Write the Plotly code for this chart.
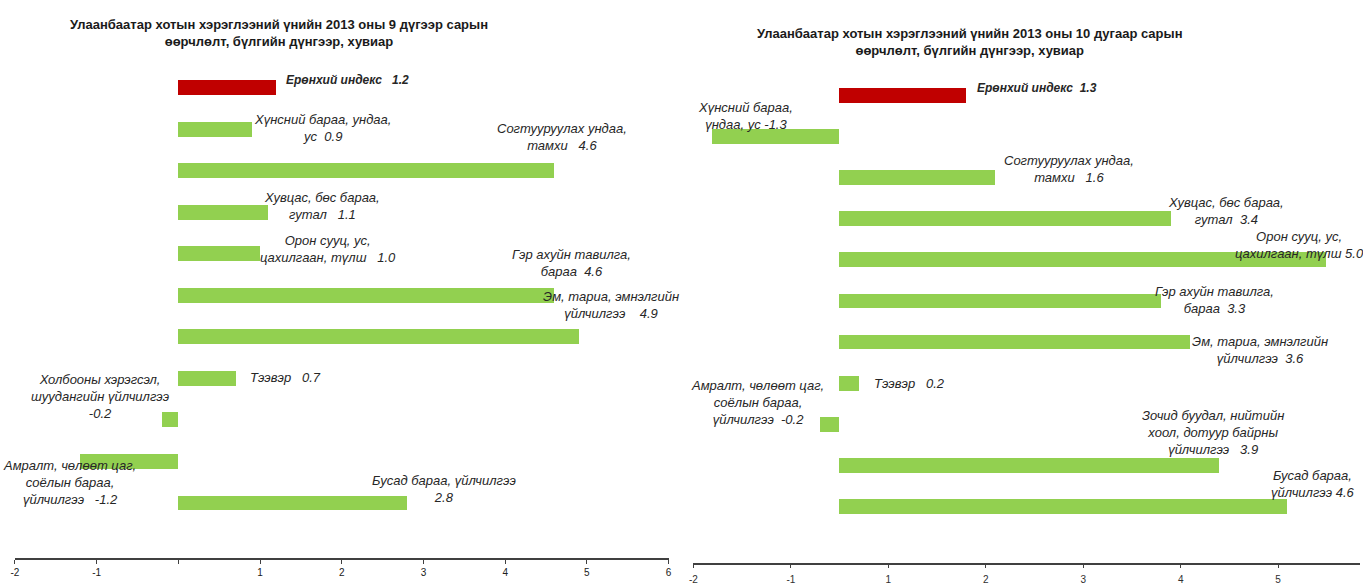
import plotly.graph_objects as go

# --- data: September 2013 (left) ---
sep_categories = ["Ерөнхий индекс", "Хүнсний бараа, ундаа, ус", "Согтууруулах ундаа, тамхи",
                  "Хувцас, бөс бараа, гутал", "Орон сууц, ус, цахилгаан, түлш", "Гэр ахуйн тавилга, бараа",
                  "Эм, тариа, эмнэлгийн үйлчилгээ", "Тээвэр", "Холбооны хэрэгсэл, шуудангийн үйлчилгээ",
                  "Амралт, чөлөөт цаг, соёлын бараа, үйлчилгээ", "Бусад бараа, үйлчилгээ"]
sep_values = [1.2, 0.9, 4.6, 1.1, 1.0, 4.6, 4.9, 0.7, -0.2, -1.2, 2.8]
sep_label_fmt = ["Ерөнхий индекс   {v}", "Хүнсний бараа, ундаа,<br>ус  {v}", "Согтууруулах ундаа,<br>тамхи   {v}",
                 "Хувцас, бөс бараа,<br>гутал   {v}", "Орон сууц, ус,<br>цахилгаан, түлш   {v}",
                 "Гэр ахуйн тавилга,<br>бараа  {v}", "Эм, тариа, эмнэлгийн<br>үйлчилгээ    {v}", "Тээвэр   {v}",
                 "Холбооны хэрэгсэл,<br>шуудангийн үйлчилгээ<br>{v}",
                 "Амралт, чөлөөт цаг,<br>соёлын бараа,<br>үйлчилгээ   {v}", "Бусад бараа, үйлчилгээ<br>{v}"]

# --- data: October 2013 (right) ---
oct_categories = ["Ерөнхий индекс", "Хүнсний бараа, ундаа, ус", "Согтууруулах ундаа, тамхи",
                  "Хувцас, бөс бараа, гутал", "Орон сууц, ус, цахилгаан, түлш", "Гэр ахуйн тавилга, бараа",
                  "Эм, тариа, эмнэлгийн үйлчилгээ", "Тээвэр", "Амралт, чөлөөт цаг, соёлын бараа, үйлчилгээ",
                  "Зочид буудал, нийтийн хоол, дотуур байрны үйлчилгээ", "Бусад бараа, үйлчилгээ"]
oct_values = [1.3, -1.3, 1.6, 3.4, 5.0, 3.3, 3.6, 0.2, -0.2, 3.9, 4.6]
oct_label_fmt = ["Ерөнхий индекс  {v}", "Хүнсний бараа,<br>үндаа, ус {v}", "Согтууруулах ундаа,<br>тамхи   {v}",
                 "Хувцас, бөс бараа,<br>гутал  {v}", "Орон сууц, ус,<br>цахилгаан, түлш {v}",
                 "Гэр ахуйн тавилга,<br>бараа  {v}", "Эм, тариа, эмнэлгийн<br>үйлчилгээ  {v}", "Тээвэр   {v}",
                 "Амралт, чөлөөт цаг,<br>соёлын бараа,<br>үйлчилгээ  {v}",
                 "Зочид буудал, нийтийн<br>хоол, дотуур байрны<br>үйлчилгээ   {v}", "Бусад бараа,<br>үйлчилгээ {v}"]

sep_title = "Улаанбаатар хотын хэрэглээний үнийн 2013 оны 9 дүгээр сарын<br>өөрчлөлт, бүлгийн дүнгээр, хувиар"
oct_title = "Улаанбаатар хотын хэрэглээний үнийн 2013 оны 10 дугаар сарын<br>өөрчлөлт, бүлгийн дүнгээр, хувиар"

sep_ticks = [-2, -1, 0, 1, 2, 3, 4, 5, 6]
sep_ticktext = ["-2", "-1", "", "1", "2", "3", "4", "5", "6"]
oct_ticks = [-1.5, -0.5, 0.5, 1.5, 2.5, 3.5, 4.5]
oct_ticktext = ["-2", "-1", "1", "2", "3", "4", "5"]

# label anchor positions in pixels (x, y, anchor)
sep_label_pos = [(281, 80, "left"), (320, 129, "center"), (561, 138, "center"), (320, 207, "center"),
                 (326, 250, "center"), (570, 265, "center"), (610, 307, "center"), (245, 380, "left"),
                 (96, 399, "center"), (66, 485, "center"), (442, 492, "center")]
oct_label_pos = [(976, 89, "left"), (745, 117, "center"), (1071, 170, "center"), (1228, 212, "center"),
                 (1302, 246, "center"), (1217, 302, "center"), (1262, 352, "center"), (872, 386, "left"),
                 (757, 405, "center"), (1215, 435, "center"), (1316, 487, "center")]

W, H = 1363, 585
K = 1.022  # small vertical stretch, the captured page comes out slightly squashed
RED = "#C00000"
GREEN = "#92D050"
FONT = "Liberation Sans Narrow, Arial Narrow, Liberation Sans, Arial, sans-serif"
TEXT_COL = "#262626"


def px(x):
    return x / W


def py(y):
    return 1 - (y * K) / H


def nbsp(s):
    return s.replace("  ", "\u00a0\u00a0")


def band_range(first_center, step, top, bottom):
    # category axis range so that bar 0 sits at first_center px, bars step px apart
    first_center, step = first_center * K, step * K
    r_top = -(first_center - top) / step
    return [r_top + (bottom - top) / step, r_top]


fig = go.Figure()

for i, (cats, vals, xa, ya) in enumerate([(sep_categories, sep_values, "x", "y"),
                                           (oct_categories, oct_values, "x2", "y2")]):
    colors = [RED] + [GREEN] * (len(vals) - 1)
    fig.add_trace(go.Bar(
        x=vals, y=cats, orientation="h", xaxis=xa, yaxis=ya,
        marker=dict(color=colors, line=dict(width=0)),
        width=0.36, showlegend=False, hoverinfo="x+y",
    ))

annotations = []
for fmts, vals, positions in [(sep_label_fmt, sep_values, sep_label_pos),
                              (oct_label_fmt, oct_values, oct_label_pos)]:
    for j, (fmt, v, (x, y, anc)) in enumerate(zip(fmts, vals, positions)):
        txt = nbsp(fmt.format(v=f"{v:.1f}"))
        size = 13
        if j == 0:
            txt = "<b>" + txt + "</b>"
            size = 12
        annotations.append(dict(
            text="<i>" + txt + "</i>", x=px(x), y=py(y), xref="paper", yref="paper",
            xanchor=anc, yanchor="middle", align="center", showarrow=False,
            font=dict(family=FONT, size=size, color=TEXT_COL),
        ))

annotations.append(dict(text="<b>" + sep_title + "</b>", x=px(276), y=py(33), xref="paper", yref="paper",
                        xanchor="center", yanchor="middle", showarrow=False, align="center",
                        font=dict(family=FONT, size=13, color="#1a1a1a")))
annotations.append(dict(text="<b>" + oct_title + "</b>", x=px(971), y=py(42), xref="paper", yref="paper",
                        xanchor="center", yanchor="middle", showarrow=False, align="center",
                        font=dict(family=FONT, size=13, color="#1a1a1a")))

axis_common = dict(showgrid=False, zeroline=False, showline=True, linecolor="#404040", linewidth=1.5,
                   ticks="outside", tickcolor="#404040", tickwidth=1, fixedrange=True)

left_top, left_bottom = 55, 574
right_top, right_bottom = 55, 579

fig.update_layout(
    width=W, height=H,
    margin=dict(l=0, r=0, t=0, b=0),
    paper_bgcolor="white", plot_bgcolor="white",
    bargap=0,
    xaxis=dict(domain=[px(11), px(668)], range=[-2, 6], anchor="y", ticklen=4,
               tickvals=sep_ticks, ticktext=sep_ticktext,
               tickfont=dict(family=FONT, size=10, color="#202020"), **axis_common),
    yaxis=dict(domain=[1 - left_bottom / H, 1 - left_top / H],
               range=band_range(88.5, 41.8, left_top, left_bottom), visible=False,
               categoryorder="array", categoryarray=sep_categories, anchor="x"),
    xaxis2=dict(domain=[px(693), 1.0], range=[-1.5, 5.34], anchor="y2", ticklen=3,
                tickvals=oct_ticks, ticktext=oct_ticktext, ticklabelstandoff=3,
                tickfont=dict(family=FONT, size=10, color="#303030"), **axis_common),
    yaxis2=dict(domain=[1 - right_bottom / H, 1 - right_top / H],
                range=band_range(96.5, 41.35, right_top, right_bottom), visible=False,
                categoryorder="array", categoryarray=oct_categories, anchor="x2"),
    annotations=annotations,
)

# keep the page exactly the size of the figure: no body margin, nothing scrollable
page_fix = ("var h=document.documentElement, b=document.body;"
            "h.style.margin='0'; h.style.padding='0'; h.style.overflow='hidden'; h.style.height='585px';"
            "b.style.margin='0'; b.style.padding='0'; b.style.overflow='hidden'; b.style.height='585px';")
fig.write_html("out.html", config={"displayModeBar": False}, post_script=page_fix)
